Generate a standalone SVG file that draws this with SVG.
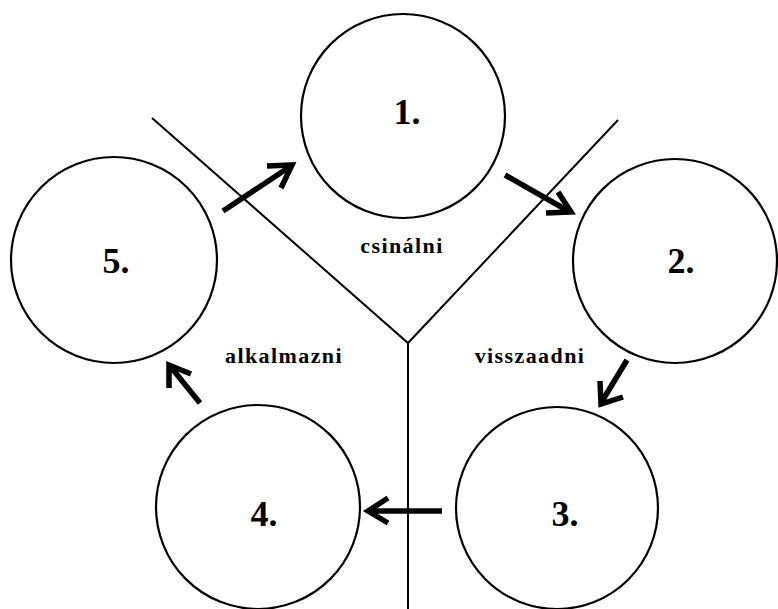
<svg xmlns="http://www.w3.org/2000/svg" width="778" height="609" viewBox="0 0 778 609">
<style>
.c{fill:none;stroke:#000;stroke-width:2.2}
.num{font-family:"Liberation Serif","Times New Roman",serif;font-weight:bold;font-size:36px;text-anchor:middle;fill:#000}
.lbl{font-family:"Liberation Serif","Times New Roman",serif;font-weight:bold;font-size:22px;letter-spacing:1.4px;text-anchor:middle;fill:#000}
.ln{fill:none;stroke:#000;stroke-width:2}
.ar{fill:none;stroke:#000;stroke-width:5.5;stroke-linecap:butt;stroke-linejoin:miter}
</style>
<rect width="778" height="609" fill="#fff"/>
<g id="dividers">
<polyline class="ln" points="152,118 408,343 618,120"/>
<line class="ln" x1="408" y1="343" x2="408" y2="609"/>
</g>
<g id="node1"><circle class="c" cx="403" cy="116" r="102"/><text class="num" x="407" y="124">1.</text></g>
<g id="node2"><circle class="c" cx="675" cy="261" r="102"/><text class="num" x="681" y="273">2.</text></g>
<g id="node3"><circle class="c" cx="557" cy="508" r="101"/><text class="num" x="565" y="526">3.</text></g>
<g id="node4"><circle class="c" cx="258" cy="507" r="102"/><text class="num" x="264" y="526">4.</text></g>
<g id="node5"><circle class="c" cx="114" cy="260" r="103"/><text class="num" x="116" y="273">5.</text></g>
<g id="labels">
<text class="lbl" x="402" y="253">csinálni</text>
<text class="lbl" x="284" y="363">alkalmazni</text>
<text class="lbl" x="530" y="363">visszaadni</text>
</g>
<g id="connectors">
<line class="ar" x1="223" y1="211" x2="291" y2="166"/>
<polyline class="ar" points="267,166 292,165 281,188"/>
<line class="ar" x1="505" y1="175" x2="570" y2="212"/>
<polyline class="ar" points="558,192 571,212 546,213"/>
<line class="ar" x1="627" y1="360" x2="601" y2="403"/>
<polyline class="ar" points="600,381 601,404 623,397"/>
<line class="ar" x1="442" y1="511" x2="369" y2="511"/>
<polyline class="ar" points="388,498 368,511 388,523"/>
<line class="ar" x1="200" y1="403" x2="170" y2="366"/>
<polyline class="ar" points="169,388 169,365 191,374"/>
</g>
</svg>
